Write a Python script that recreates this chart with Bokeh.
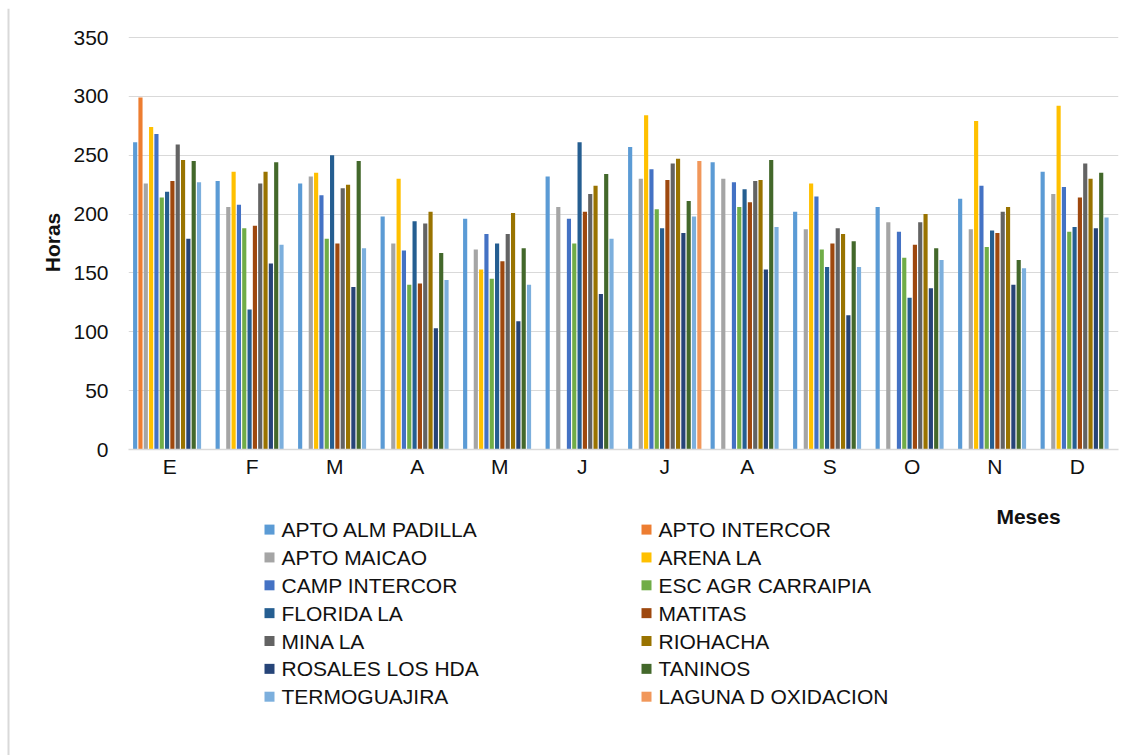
from bokeh.plotting import figure
from bokeh.layouts import column, row
from bokeh.models import Range1d, FixedTicker, ColumnDataSource
from bokeh.core.properties import value
from bokeh.embed import file_html
from bokeh.resources import INLINE

# Monthly sunshine hours per station
months = ["E", "F", "M", "A", "M", "J", "J", "A", "S", "O", "N", "D"]

stations = [
    "APTO ALM PADILLA", "APTO INTERCOR", "APTO MAICAO", "ARENA LA",
    "CAMP INTERCOR", "ESC AGR CARRAIPIA", "FLORIDA LA", "MATITAS",
    "MINA LA", "RIOHACHA", "ROSALES LOS HDA", "TANINOS",
    "TERMOGUAJIRA", "LAGUNA D OXIDACION",
]

apto_alm_padilla = [261, 228, 226, 198, 196, 232, 257, 244, 202, 206, 213, 236]
apto_intercor = [299, None, None, None, None, None, None, None, None, None, None, None]
apto_maicao = [226, 206, 232, 175, 170, 206, 230, 230, 187, 193, 187, 217]
arena_la = [274, 236, 235, 230, 153, None, 284, None, 226, None, 279, 292]
camp_intercor = [268, 208, 216, 169, 183, 196, 238, 227, 215, 185, 224, 223]
esc_agr_carraipia = [214, 188, 179, 140, 145, 175, 204, 206, 170, 163, 172, 185]
florida_la = [219, 119, 250, 194, 175, 261, 188, 221, 155, 129, 186, 189]
matitas = [228, 190, 175, 141, 160, 202, 229, 210, 175, 174, 184, 214]
mina_la = [259, 226, 222, 192, 183, 217, 243, 228, 188, 193, 202, 243]
riohacha = [246, 236, 225, 202, 201, 224, 247, 229, 183, 200, 206, 230]
rosales_los_hda = [179, 158, 138, 103, 109, 132, 184, 153, 114, 137, 140, 188]
taninos = [245, 244, 245, 167, 171, 234, 211, 246, 177, 171, 161, 235]
termoguajira = [227, 174, 171, 144, 140, 179, 198, 189, 155, 161, 154, 197]
laguna_d_oxidacion = [None, None, None, None, None, None, 245, None, None, None, None, None]

series = [
    apto_alm_padilla, apto_intercor, apto_maicao, arena_la, camp_intercor,
    esc_agr_carraipia, florida_la, matitas, mina_la, riohacha,
    rosales_los_hda, taninos, termoguajira, laguna_d_oxidacion,
]

colors = [
    "#5B9BD5", "#ED7D31", "#A5A5A5", "#FFC000", "#4472C4", "#70AD47",
    "#255E91", "#9E480E", "#636363", "#997300", "#264478", "#43682B",
    "#7CAFDD", "#F1975A",
]

y_ticks = [0, 50, 100, 150, 200, 250, 300, 350]

FONT = "Liberation Sans"
FSIZE = "21px"
TEXT = "#111111"
GRID = "#D9D9D9"

W, H = 1140, 755
EDGE_X, EDGE_Y = 10, 8          # strips holding the outer chart border
MAIN_H = 482                    # chart figure height (page y 8..490)
LEG_H = H - EDGE_Y - MAIN_H     # legend strip height
F_LEFT, F_RIGHT, F_TOP, F_BOTTOM = 128, 1118, 35, 449   # plot frame on the page
Y_TOP = 350 + (37 - F_TOP) * 350 / (F_BOTTOM - 37)      # keeps 350 at y=37


def blank(w, h, x0, x1, y_bottom, y_top, left=0, right=0):
    """Axis-less figure drawn in page pixel coordinates."""
    f = figure(width=w, height=h, output_backend="svg", toolbar_location=None,
               x_range=Range1d(x0, x1), y_range=Range1d(y_bottom, y_top),
               x_axis_location=None, y_axis_location=None, title_location=None,
               min_border_left=left, min_border_right=right,
               min_border_top=0, min_border_bottom=0)
    f.grid.visible = False
    f.outline_line_color = None
    f.background_fill_color = "white"
    f.border_fill_color = "white"
    return f


# outer border, top edge and left edge
edge_top = blank(W, EDGE_Y, 0, W, EDGE_Y, 0)
edge_top.segment(x0=[7, 8], y0=[6, 5], x1=[W, 8], y1=[6, EDGE_Y], line_color=GRID, line_width=2)
edge_left = blank(EDGE_X, H - EDGE_Y, 0, EDGE_X, H, EDGE_Y)
edge_left.segment(x0=[8], y0=[EDGE_Y], x1=[8], y1=[H], line_color=GRID, line_width=2)

# main chart
p = figure(
    width=W - EDGE_X, height=MAIN_H, output_backend="svg", toolbar_location=None,
    x_range=Range1d(0, len(months)), y_range=Range1d(0, Y_TOP),
    min_border_left=F_LEFT - EDGE_X, min_border_right=W - F_RIGHT,
    min_border_top=F_TOP - EDGE_Y, min_border_bottom=EDGE_Y + MAIN_H - F_BOTTOM,
    title_location=None,
)
p.outline_line_color = None
p.background_fill_color = "white"
p.border_fill_color = "white"

# clustered bars: 14 slots per month plus a 150% gap split on both sides
n = len(series)
slots = n + 1.5
for j, (vals, col) in enumerate(zip(series, colors)):
    xs, tops = [], []
    for i, v in enumerate(vals):
        if v is None:
            continue
        xs.append(i + (0.75 + j + 0.5) / slots)
        tops.append(v)
    p.vbar(x=xs, top=tops, width=0.78 / slots, color=col, line_color=None)

p.yaxis.ticker = FixedTicker(ticks=y_ticks)
p.yaxis.axis_line_color = None
p.yaxis.major_tick_line_color = None
p.yaxis.minor_tick_line_color = None
p.yaxis.major_tick_out = 0
p.yaxis.major_label_standoff = 20
p.yaxis.major_label_text_font = FONT
p.yaxis.major_label_text_font_size = FSIZE
p.yaxis.major_label_text_color = TEXT
p.yaxis.axis_label = "Horas"
p.yaxis.axis_label_standoff = 6
p.yaxis.axis_label_text_font = FONT
p.yaxis.axis_label_text_font_size = FSIZE
p.yaxis.axis_label_text_font_style = "bold"
p.yaxis.axis_label_text_color = TEXT

centers = [i + 0.5 for i in range(len(months))]
p.xaxis.ticker = FixedTicker(ticks=centers)
p.xaxis.major_label_overrides = {c: m for c, m in zip(centers, months)}
p.xaxis.axis_line_color = GRID
p.xaxis.axis_line_width = 1.5
p.xaxis.major_tick_line_color = None
p.xaxis.minor_tick_line_color = None
p.xaxis.major_tick_out = 0
p.xaxis.major_label_standoff = 5
p.xaxis.major_label_text_font = FONT
p.xaxis.major_label_text_font_size = FSIZE
p.xaxis.major_label_text_color = TEXT

p.xgrid.visible = False
p.ygrid.ticker = FixedTicker(ticks=y_ticks)
p.ygrid.grid_line_color = GRID
p.ygrid.grid_line_width = 1.2

# legend strip below the chart; its frame lines up with the chart frame
leg = blank(W - EDGE_X, LEG_H, F_LEFT, F_RIGHT, H, EDGE_Y + MAIN_H,
            left=F_LEFT - EDGE_X, right=W - F_RIGHT)
col_x = [264, 641]
row_y0, row_step = 529.1, 27.85
sq_x, sq_y, tx = [], [], []
for k in range(len(stations)):
    r, c = divmod(k, 2)
    sq_x.append(col_x[c] + 5)
    sq_y.append(row_y0 + r * row_step)
    tx.append(col_x[c] + 17)
src = ColumnDataSource(dict(sx=sq_x, sy=sq_y, tx=tx, name=stations, color=colors))
leg.rect(x="sx", y="sy", width=10, height=10, fill_color="color", line_color=None, source=src)
leg.text(x="tx", y="sy", text="name", source=src, text_align="left", text_baseline="middle",
         text_font=value(FONT), text_font_size=value(FSIZE), text_color=TEXT)
leg.text(x=[1028], y=[516], text=["Meses"], text_align="center", text_baseline="middle",
         text_font=value(FONT), text_font_size=value(FSIZE), text_font_style="bold",
         text_color=TEXT)

layout = column(edge_top, row(edge_left, column(p, leg)))
open("out.html", "w").write(file_html(layout, INLINE))
